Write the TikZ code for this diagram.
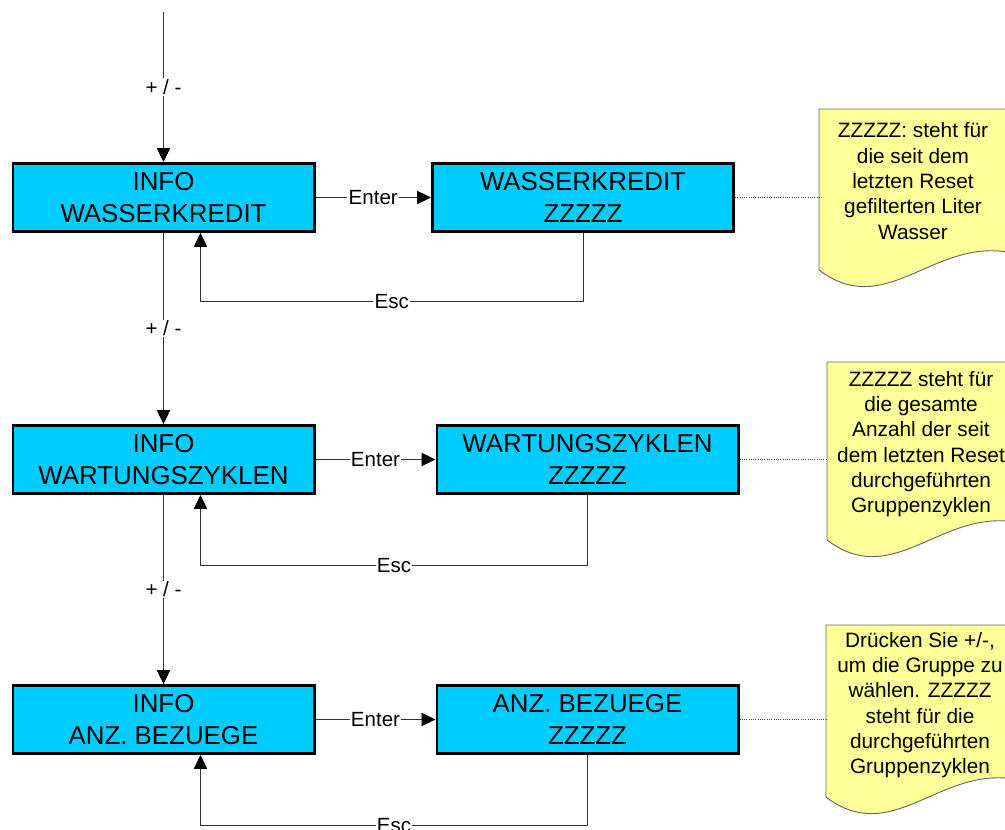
\documentclass[tikz,border=0pt]{standalone}
\usepackage{fontspec}
\setmainfont{Liberation Sans}
\usetikzlibrary{arrows.meta,calc}
\definecolor{boxcyan}{HTML}{00CCFF}
\definecolor{noteyellow}{HTML}{FFFF99}
\tikzset{
  statebox/.style={draw=black, line width=2.2pt, fill=boxcyan, minimum width=225.8pt,
    minimum height=51pt, align=center, font=\fontsize{19.4}{24}\selectfont, inner sep=0pt},
  conn/.style={draw=black!80, line width=0.7pt},
  arr/.style={conn, -{Triangle[length=10.5pt,width=10pt,color=black]}},
  lbl/.style={fill=white, inner sep=1pt, font=\fontsize{15.4}{18}\selectfont},
  notelink/.style={draw=black!70, line width=0.7pt, densely dotted},
  notetext/.style={align=center, font=\fontsize{15.6}{19}\selectfont, inner sep=0pt},
  noteshape/.style={fill=noteyellow, draw=black!60, line width=0.7pt},
}
\newcommand\drawnote[3]{%
  \path[noteshape] (#1,#3) -- (#1,#2) -- (#1+188,#2) -- (#1+188,#3-18)
    .. controls (#1+188*0.6,#3-30) and (#1+188*0.35,#3+50) .. (#1,#3) -- cycle;}
\begin{document}
\begin{tikzpicture}[x=0.75pt,y=-0.75pt]
\useasboundingbox (0,0) rectangle (1005,830);

% notes
\drawnote{819}{109}{270}
\drawnote{827}{362}{540}
\drawnote{826}{625}{797}
\node[notetext] (t1) at (913,181) {ZZZZZ: steht für\\die seit dem\\letzten Reset\\gefilterten Liter\\Wasser};
\node[notetext] (t2) at (921,444) {ZZZZZ steht für\\die gesamte\\Anzahl der seit\\dem letzten Reset\\durchgeführten\\Gruppenzyklen};
\node[notetext] (t3) at (920,705) {Drücken Sie +/-,\\um die Gruppe zu\\wählen. ZZZZZ\\steht für die\\durchgeführten\\Gruppenzyklen};
\coordinate (n1) at (819,197.5);
\coordinate (n2) at (827,459.5);
\coordinate (n3) at (826,719.5);

% boxes
\node[statebox] (a1) at (163.5,197.5) {INFO\\WASSERKREDIT};
\node[statebox] (b1) at (583,197.5) {WASSERKREDIT\\ZZZZZ};
\node[statebox] (a2) at (163.5,459.5) {INFO\\WARTUNGSZYKLEN};
\node[statebox] (b2) at (587.5,459.5) {WARTUNGSZYKLEN\\ZZZZZ};
\node[statebox] (a3) at (163.5,719.5) {INFO\\ANZ. BEZUEGE};
\node[statebox] (b3) at (587.5,719.5) {ANZ. BEZUEGE\\ZZZZZ};

\coordinate (top) at (163.5,12);
\coordinate (e1) at ($(a1.south)+(37,0)$);
\coordinate (e2) at ($(a2.south)+(37,0)$);
\coordinate (e3) at ($(a3.south)+(37,0)$);

% vertical +/- arrows
\draw[arr] (top) -- node[lbl]{+ / -} (a1.north);
\draw[arr] (a1.south) -- node[lbl]{+ / -} (a2.north);
\draw[arr] (a2.south) -- node[lbl]{+ / -} (a3.north);

% Enter arrows
\draw[arr] (a1.east) -- node[lbl]{Enter} (b1.west);
\draw[arr] (a2.east) -- node[lbl]{Enter} (b2.west);
\draw[arr] (a3.east) -- node[lbl]{Enter} (b3.west);

% Esc loops
\draw[arr] (b1.south) -- ++(0,68.5) -| node[lbl,pos=0.25]{Esc} (e1);
\draw[arr] (b2.south) -- ++(0,70.5) -| node[lbl,pos=0.25]{Esc} (e2);
\draw[arr] (b3.south) -- ++(0,70.5) -| node[lbl,pos=0.25]{Esc} (e3);

% note links
\draw[notelink] (b1.east) -- (n1);
\draw[notelink] (b2.east) -- (n2);
\draw[notelink] (b3.east) -- (n3);
\end{tikzpicture}
\end{document}
